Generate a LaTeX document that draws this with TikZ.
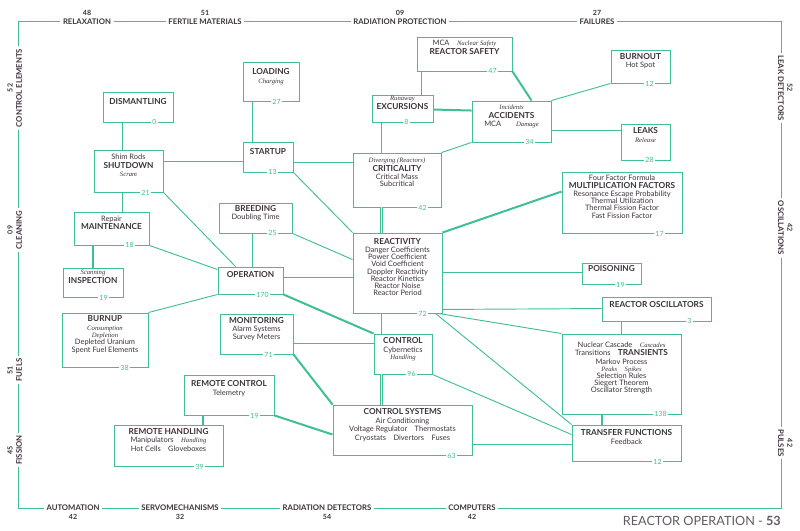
\documentclass[tikz,border=0pt]{standalone}
\usepackage{fontspec}
\setmainfont{Lato}
\newfontfamily\serifit{Liberation Serif}
\usetikzlibrary{calc}
\definecolor{teal}{RGB}{64,190,150}
\definecolor{ink}{RGB}{60,50,58}
\newcommand\itx[1]{{\serifit\itshape\fontsize{5}{6}\selectfont #1}}
\newcommand\bb[1]{{\bfseries\fontsize{6.2}{7.5}\selectfont #1}}
\tikzset{
 box/.style={draw=teal,line width=0.7pt,inner sep=0pt,align=center,text=ink,font=\fontsize{5.6}{6.3}\selectfont},
 num/.style={fill=white,text=teal,inner sep=1.2pt,font=\fontsize{5.3}{6}\selectfont},
 ln/.style={draw=teal,line width=0.7pt},
 tk/.style={draw=teal,line width=1.5pt},
 fl/.style={fill=white,text=ink,inner sep=2pt,font=\bfseries\fontsize{5.8}{6}\selectfont},
 fn/.style={text=ink,inner sep=0pt,font=\bfseries\fontsize{5.3}{6}\selectfont},
}
\newcommand\bx[8]{%
 \node[box,minimum width={(#4-#2)*0.75pt},minimum height={(#5-#3)*0.75pt}] (#1) at ({(#2+#4)/2},{(#3+#5)/2}) {#6};
 \node[num] (#1n) at ($(#1.south west)+({#7-#2},0)$) {#8};}
\begin{document}
\begin{tikzpicture}[x=0.75pt,y=-0.75pt]
\useasboundingbox (0,0) rectangle (800,531);
% frame
\draw[ln] (18,21) rectangle (781,508);
\foreach \x/\t/\n/\nm in {87/RELAXATION/48/fa,205/FERTILE\ MATERIALS/51/fb,400/RADIATION\ PROTECTION/09/fc,597/FAILURES/27/fd}{
 \node[fl] (\nm) at (\x,22) {\t}; \node[fn] (\nm n) at (\x,13) {\n};}
\foreach \x/\t/\n/\nm in {73/AUTOMATION/42/ga,180/SERVOMECHANISMS/32/gb,327/RADIATION\ DETECTORS/54/gc,472/COMPUTERS/42/gd}{
 \node[fl] (\nm) at (\x,508) {\t}; \node[fn] (\nm n) at (\x,517) {\n};}
\foreach \y/\t/\n/\nm in {88/CONTROL\ ELEMENTS/52/ha,230/CLEANING/09/hb,370/FUELS/51/hc,450/FISSION/45/hd}{
 \node[fl,rotate=90] (\nm) at (19,\y) {\t}; \node[fn,rotate=90] (\nm n) at (10,\y) {\n};}
\foreach \y/\t/\n/\nm in {88/LEAK\ DETECTORS/52/ka,228/OSCILLATIONS/42/kb,443/PULSES/42/kc}{
 \node[fl,rotate=-90] (\nm) at (781,\y) {\t}; \node[fn,rotate=-90] (\nm n) at (790,\y) {\n};}
\node[anchor=east,text=ink!80,inner sep=0pt,font=\fontsize{9.5}{10}\selectfont] (pg) at (781,521) {REACTOR OPERATION - \textbf{53}};
% boxes
\bx{load}{243}{62}{299}{101}{\bb{LOADING}\\[1pt]\itx{Charging}\\[2pt]}{277}{27}
\bx{dism}{103}{92}{173}{122}{\bb{DISMANTLING}\\[2pt]}{155}{0}
\bx{shut}{94}{150}{163}{192}{Shim Rods\\\bb{SHUTDOWN}\\\itx{Scram}\\[2pt]}{146}{21}
\bx{start}{243}{142}{293}{172}{\bb{STARTUP}\\[2pt]}{273}{13}
\bx{breed}{219}{203}{292}{233}{\bb{BREEDING}\\Doubling Time\\[2pt]}{273}{25}
\bx{maint}{74}{212}{149}{245}{Repair\\\bb{MAINTENANCE}\\[2pt]}{130}{18}
\bx{insp}{63}{268}{123}{297}{\itx{Scanning}\\\bb{INSPECTION}\\[2pt]}{104}{19}
\bx{oper}{218}{267}{283}{294}{\bb{OPERATION}\\[2pt]}{263}{170}
\bx{burn}{62}{313}{148}{367}{\bb{BURNUP}\\\itx{Consumption}\\[-1pt]\itx{Depletion}\\[-1pt]Depleted Uranium\\Spent Fuel Elements\\[2pt]}{125}{38}
\bx{moni}{220}{314}{293}{354}{\bb{MONITORING}\\Alarm Systems\\Survey Meters\\[2pt]}{269}{71}
\bx{rc}{184}{375}{274}{415}{\bb{REMOTE CONTROL}\\Telemetry\\[4pt]}{255}{19}
\bx{rh}{114}{425}{223}{466}{\bb{REMOTE HANDLING}\\Manipulators\quad\itx{Handling}\\Hot Cells\quad Gloveboxes\\[2pt]}{200}{39}
\bx{ctrl}{374}{334}{432}{374}{\bb{CONTROL}\\Cybernetics\\[-1pt]\itx{Handling}\\[2pt]}{412}{96}
\bx{cs}{333}{405}{472}{455}{\bb{CONTROL SYSTEMS}\\Air Conditioning\\Voltage Regulator\quad Thermostats\\Cryostats\quad Divertors\quad Fuses\\[2pt]}{452}{63}
\bx{react}{353}{233}{442}{313}{\bb{REACTIVITY}\\Danger Coefficients\\[-1pt]Power Coefficient\\[-1pt]Void Coefficient\\[-1pt]Doppler Reactivity\\[-1pt]Reactor Kinetics\\[-1pt]Reactor Noise\\[-1pt]Reactor Period\\[3pt]}{423}{72}
\bx{crit}{353}{153}{441}{207}{\itx{Diverging (Reactors)}\\\bb{CRITICALITY}\\Critical Mass\\[-1pt]Subcritical\\[5pt]}{423}{42}
\bx{exc}{372}{95}{433}{122}{\itx{Runaway}\\\bb{EXCURSIONS}\\[2pt]}{407}{8}
\bx{safe}{417}{37}{512}{71}{MCA\quad\itx{Nuclear Safety}\\\bb{REACTOR SAFETY}\\[4pt]}{493}{47}
\bx{acc}{472}{101}{551}{142}{\itx{Incidents}\\\bb{ACCIDENTS}\\MCA\qquad\itx{Damage}\\[2pt]}{530}{34}
\bx{bout}{611}{50}{670}{83}{\bb{BURNOUT}\\Hot Spot\\[3pt]}{650}{12}
\bx{leak}{621}{124}{670}{160}{\bb{LEAKS}\\\itx{Release}\\[4pt]}{650}{28}
\bx{mult}{562}{172}{682}{233}{Four Factor Formula\\\bb{MULTIPLICATION FACTORS}\\Resonance Escape Probability\\[-1pt]Thermal Utilization\\[-1pt]Thermal Fission Factor\\[-1pt]Fast Fission Factor\\[3pt]}{660}{17}
\bx{pois}{582}{263}{641}{284}{\bb{POISONING}\\[1pt]}{621}{19}
\bx{osc}{602}{297}{711}{321}{\bb{REACTOR OSCILLATORS}\\[1pt]}{690}{3}
\bx{trans}{562}{334}{681}{414}{Nuclear Cascade\quad\itx{Cascades}\\Transitions\quad\bb{TRANSIENTS}\\Markov Process\\[-1pt]\itx{Peaks}\quad\itx{Spikes}\\[-1pt]Selection Rules\\[-1pt]Siegert Theorem\\[-1pt]Oscillator Strength\\[4pt]}{661}{138}
\bx{tf}{572}{425}{681}{461}{\bb{TRANSFER FUNCTIONS}\\Feedback\\[3pt]}{658}{12}
% connectors
\draw[ln] ($(load.south west)+(10,0)$) -- ($(start.north west)+(10,0)$);
\draw[ln] ($(dism.south west)+(20,0)$) -- ($(shut.north west)+(29,0)$);
\draw[ln] ($(shut.north east)+(0,12)$) -- ($(start.north west)+(0,20)$);
\draw[ln] ($(start.north east)+(0,21)$) -- ($(crit.north west)+(0,10)$);
\draw[ln] ($(shut.south west)+(29,0)$) -- ($(maint.north west)+(49,0)$);
\draw[ln] (shut.south east) -- ($(oper.north west)+(18,0)$);
\draw[tk] ($(maint.south west)+(19,0)$) -- ($(insp.north west)+(30,0)$);
\draw[ln] (maint.south east) -- ($(oper.north west)+(0,3)$);
\draw[ln] ($(breed.south west)+(34,0)$) -- ($(oper.north west)+(35,0)$);
\draw[ln] (breed.south east) -- ($(react.north west)+(0,27)$);
\draw[ln] (start.south east) -- (react.north west);
\draw[ln] ($(oper.north east)+(0,11)$) -- ($(react.north west)+(0,45)$);
\draw[tk] (oper.south east) -- (ctrl.north west);
\draw[ln] (burn.north east) -- (oper.south west);
\draw[ln] ($(moni.north east)+(0,30)$) -- ($(ctrl.north west)+(0,10)$);
\draw[tk] (moni.south east) -- (cs.north west);
\draw[tk] ($(rc.south west)+(19,0)$) -- ($(rh.north west)+(89,0)$);
\draw[tk] (rc.south east) -- ($(cs.north west)+(0,30)$);
\draw[ln,double=white,double distance=1pt] ($(ctrl.south west)+(8,0)$) -- ($(cs.north west)+(49,0)$);
\draw[ln,double=white,double distance=1pt] ($(crit.south west)+(29,0)$) -- ($(react.north west)+(29,0)$);
\draw[ln] ($(exc.south west)+(10,0)$) -- ($(crit.north west)+(29,0)$);
\draw[ln] ($(safe.south west)+(5,0)$) -- ($(exc.north west)+(50,0)$);
\draw[tk] ($(exc.north east)+(0,15)$) -- ($(acc.north west)+(0,10)$);
\draw[tk] (safe.south east) -- ($(acc.north west)+(60,0)$);
\draw[ln] (acc.north east) -- (bout.south west);
\draw[ln] ($(acc.north east)+(0,30)$) -- ($(leak.north west)+(0,7)$);
\draw[ln] (crit.north east) -- (acc.south west);
\draw[tk] (react.north east) -- ($(mult.north west)+(0,20)$);
\draw[ln] ($(react.north east)+(0,40)$) -- ($(pois.north west)+(0,10)$);
\draw[ln] ($(react.south east)+(0,-4)$) -- ($(osc.north west)+(0,12)$);
\draw[ln] ($(osc.south west)+(20,0)$) -- ($(trans.north west)+(60,0)$);
\draw[ln] ($(react.south east)+(-4,0)$) -- (trans.north west);
\draw[ln] ($(react.south east)+(-7,0)$) -- (tf.north west);
\draw[ln] ($(react.south west)+(29,0)$) -- ($(ctrl.north west)+(8,0)$);
\draw[ln] (ctrl.south east) -- ($(tf.north west)+(0,10)$);
\draw[ln] ($(cs.north east)+(0,40)$) -- ($(tf.north west)+(0,20)$);
\draw[tk] ($(trans.south west)+(40,0)$) -- ($(tf.north west)+(30,0)$);
\end{tikzpicture}
\end{document}
